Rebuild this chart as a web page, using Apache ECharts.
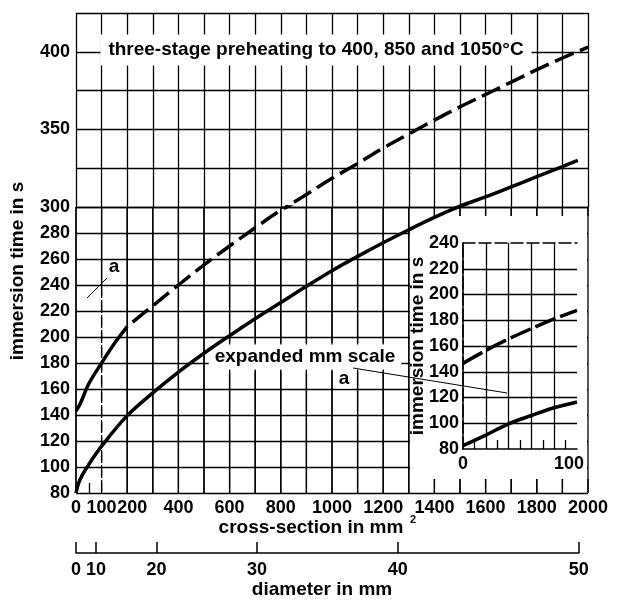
<!DOCTYPE html>
<html><head><meta charset="utf-8">
<script src="https://cdn.jsdelivr.net/npm/echarts@6/dist/echarts.min.js"></script>
<style>html,body{margin:0;padding:0;background:#fff}#c{width:617px;height:600px}</style>
</head><body><div id="c"></div>
<script>
// ---- data ----
const solidCrossSection = [0,10,25,50,100,200,300,400,500,600,700,800,900,1000,1100,1200,1300,1400,1500,1600,1700,1800,1900,1960];
const solidTime = [80,87.5,94,102,116,139.5,157,173,187.5,201,214,226.5,239,251,262,272.5,282.5,292,300.5,306.5,313,319.5,326,330];
const dashedCrossSection = [0,15,50,100,150,200,300,400,500,600,700,800,900,1000,1100,1200,1300,1400,1500,1600,1700,1800,1900,2000];
const dashedTime = [143,148,164,180,195,208,224,240,255.5,270,284,297.5,308,318.5,328,338,347,356,364.5,372.5,380.5,388.5,396,403];
const insetCrossSection = [0,20,40,60,80,100];
const insetSolidTime = [82.6,90.8,99.5,106,112,116.5];
const insetDashedTime = [146.5,156.5,165.5,173.5,181,187.7];
const xTickLabels = [0,100,200,400,600,800,1000,1200,1400,1600,1800,2000];
const xGridValues = [0,100,200,300,400,500,600,700,800,900,1000,1100,1200,1300,1400,1500,1600,1700,1800,1900,2000];
const yUpperLabels = [350,400];
const diameterTicks = [0,10,20,30,40,50];
const insetXLabels = [0,100];
const insetMinorTicks = [10,30,50,70,90];
const bottomMinorTicks = [50];
const dashedGridValue = 100, dashedGridTop = 240;   // the "a" line is dashed below 240 s

const FONT = "'Liberation Sans', Arial, sans-serif";
const area = d => Math.PI * d * d / 4;
const diamAreas = diameterTicks.map(area);
const zip = (a, b) => a.map((v, i) => [v, b[i]]);
const solidData = zip(solidCrossSection, solidTime);
const dashedData = zip(dashedCrossSection, dashedTime);
const headEnd = dashedCrossSection.indexOf(200);
const dashedHead = dashedData.slice(0, headEnd + 1);
const dashedTail = dashedData.slice(headEnd);

const L = 76, W = 512;
const lbl = extra => Object.assign({color:'#000', fontFamily: FONT, fontWeight:'bold', fontSize:18}, extra || {});
const gridLine = () => ({show:true, lineStyle:{color:'#000', width:1.3}});
const off = () => ({show:false});

const chart = echarts.init(document.getElementById('c'), null, {renderer:'canvas'});

function mainSeries(xi, yi) {
  return [
    {type:'line', xAxisIndex:xi, yAxisIndex:yi, data:solidData, showSymbol:false, smooth:0.35,
     lineStyle:{color:'#000', width:3.5}, z:2, silent:true},
    {type:'line', xAxisIndex:xi, yAxisIndex:yi, data:dashedHead, showSymbol:false, smooth:0.35,
     lineStyle:{color:'#000', width:3.5}, z:2, silent:true},
    {type:'line', xAxisIndex:xi, yAxisIndex:yi, data:dashedTail, showSymbol:false, smooth:0.35,
     lineStyle:{color:'#000', width:3.5, type:[20,7], dashOffset:20}, z:2, silent:true}
  ];
}

// vertical grid lines of the lower part, drawn by a custom series through the lower grid's scale
function renderGridLine(params, api) {
  const v = api.value(0);
  const a = api.coord([v, 80]);
  const b = api.coord([v, 300]);
  if (v === dashedGridValue) {
    const m = api.coord([v, dashedGridTop]);
    return {type:'group', children:[
      {type:'line', shape:{x1:m[0], y1:m[1], x2:b[0], y2:b[1]}, style:{stroke:'#000', lineWidth:1.3, fill:null}},
      {type:'line', shape:{x1:a[0], y1:a[1], x2:m[0], y2:m[1]}, style:{stroke:'#000', lineWidth:1.3, fill:null, lineDash:[11,4]}}
    ]};
  }
  return {type:'line', shape:{x1:a[0], y1:a[1], x2:b[0], y2:b[1]}, style:{stroke:'#000', lineWidth:1.3, fill:null}};
}

const baseGraphics = [
    {id:'insetbg', type:'rect', shape:{x:410, y:216, width:177, height:263}, style:{fill:'#fff'}, z:1, silent:true},
    {id:'title', type:'text', x:316, y:50, z:1, style:{text:'three-stage preheating to 400, 850 and 1050°C', font:'bold 19px '+FONT, fill:'#000',
      align:'center', verticalAlign:'middle', backgroundColor:'#fff', padding:[6,8]}},
    {id:'exp', type:'text', x:305, y:357, z:1, style:{text:'expanded mm scale', font:'bold 19px '+FONT, fill:'#000',
      align:'center', verticalAlign:'middle', backgroundColor:'#fff', padding:[3,6]}},
    {id:'a2', type:'text', x:344, y:379, z:1, style:{text:'a', font:'bold 19px '+FONT, fill:'#000',
      align:'center', verticalAlign:'middle', backgroundColor:'#fff', padding:[0,3]}},
    {id:'a1', type:'text', x:114, y:267, z:6, style:{text:'a', font:'bold 19px '+FONT, fill:'#000', align:'center', verticalAlign:'middle'}},
    {id:'lead1', type:'line', shape:{x1:87, y1:298, x2:107, y2:278}, style:{stroke:'#000', lineWidth:1}, z:6, silent:true},
    {id:'lead2', type:'line', shape:{x1:353, y1:368, x2:507, y2:393}, style:{stroke:'#000', lineWidth:1}, z:6, silent:true},
    {id:'yname', type:'text', x:18, y:271, rotation:Math.PI/2, z:6, style:{text:'immersion time in s', font:'bold 19px '+FONT, fill:'#000', align:'center', verticalAlign:'middle'}},
    {id:'yname2', type:'text', x:418, y:346, rotation:Math.PI/2, z:6, style:{text:'immersion time in s', font:'bold 19px '+FONT, fill:'#000', align:'center', verticalAlign:'middle'}},
    {id:'xname', type:'text', x:311, y:528, z:6, style:{text:'cross-section in mm', font:'bold 19px '+FONT, fill:'#000', align:'center', verticalAlign:'middle'}},
    {id:'xsup', type:'text', x:413, y:520, z:6, style:{text:'2', font:'bold 11px '+FONT, fill:'#000', align:'center', verticalAlign:'middle'}},
    {id:'dname', type:'text', x:322, y:590, z:6, style:{text:'diameter in mm', font:'bold 19px '+FONT, fill:'#000', align:'center', verticalAlign:'middle'}}
];

const option = {
  animation:false,
  backgroundColor:'#fff',
  grid:[
    {left:L, top:13, width:W, height:194, outerBoundsMode:'none'},   // 0 upper
    {left:L, top:207, width:W, height:286, outerBoundsMode:'none'},  // 1 lower
    {left:L, top:552, width:W*diamAreas[diamAreas.length-1]/2000, height:1, outerBoundsMode:'none'}, // 2 diameter
    {left:463, top:243, width:114, height:206, outerBoundsMode:'none'} // 3 inset
  ],
  xAxis:[
    {gridIndex:0, type:'value', min:0, max:2000, interval:100, axisLine:off(), axisTick:off(), axisLabel:off(), splitLine:gridLine(), z:0},
    {gridIndex:1, type:'value', min:0, max:2000, axisLine:off(), splitLine:off(),
     axisTick:{show:true, inside:true, length:10, customValues:bottomMinorTicks, lineStyle:{color:'#000', width:1.3}},
     axisLabel:lbl({customValues:xTickLabels, margin:6,
        formatter:v => v === 200 ? '{s|200}' : String(v),
        rich:{s:{padding:[0,0,0,10], fontFamily:FONT, fontWeight:'bold', fontSize:18, color:'#000'}}}), z:0},
    {gridIndex:2, type:'value', min:0, max:diamAreas[diamAreas.length-1],
     axisLine:{show:true, lineStyle:{color:'#000', width:1.5}},
     axisTick:{show:true, inside:true, length:11, customValues:diamAreas, lineStyle:{color:'#000', width:1.5}},
     axisLabel:lbl({customValues:diamAreas, margin:8,
        formatter:v => String(Math.round(Math.sqrt(4*v/Math.PI)))}),
     splitLine:off()},
    {gridIndex:3, type:'value', min:0, max:100, interval:20,
     axisLine:{show:true, lineStyle:{color:'#000', width:1.5}}, axisTick:off(), axisLabel:off(),
     splitLine:{show:true, showMinLine:false, showMaxLine:false, lineStyle:{color:'#000', width:1.3}}, z:3},
    {gridIndex:3, type:'value', position:'bottom', min:0, max:100, axisLine:off(), splitLine:off(),
     axisTick:{show:true, inside:true, length:9, customValues:insetMinorTicks, lineStyle:{color:'#000', width:1.3}},
     axisLabel:lbl({customValues:insetXLabels, margin:6,
        formatter:v => v === 100 ? '{r|100}' : String(v),
        rich:{r:{padding:[0,16,0,0], fontFamily:FONT, fontWeight:'bold', fontSize:18, color:'#000'}}}), z:3},
    {gridIndex:3, type:'value', position:'top', min:0, max:100,
     axisLine:{show:true, lineStyle:{color:'#000', width:1.5, type:[12,4]}},
     axisTick:off(), axisLabel:off(), splitLine:off(), z:3}
  ],
  yAxis:[
    {gridIndex:0, type:'value', min:300, max:425, interval:25, axisLine:off(), axisTick:off(),
     axisLabel:lbl({customValues:yUpperLabels, margin:6}), splitLine:gridLine(), z:0},
    {gridIndex:1, type:'value', min:80, max:300, interval:20, axisLine:off(), axisTick:off(),
     axisLabel:lbl({margin:6}), splitLine:gridLine(), z:0},
    {gridIndex:2, type:'value', min:0, max:1, show:false},
    {gridIndex:3, type:'value', position:'left', min:80, max:240, interval:20,
     axisLine:{show:true, lineStyle:{color:'#000', width:1.5}}, axisTick:off(),
     axisLabel:lbl({margin:4}),
     splitLine:{show:true, showMinLine:false, showMaxLine:false, lineStyle:{color:'#000', width:1.3}}, z:3},
    {gridIndex:3, type:'value', position:'right', min:80, max:240,
     axisLine:{show:true, lineStyle:{color:'#000', width:1.5, type:[12,4]}},
     axisTick:off(), axisLabel:off(), splitLine:off(), z:3}
  ],
  series:[
    {type:'custom', xAxisIndex:1, yAxisIndex:1, renderItem:renderGridLine, clip:false, silent:true, z:0.5,
     encode:{x:0, y:1}, data:xGridValues.map(v => [v, 80])},
    ...mainSeries(0,0),
    ...mainSeries(1,1),
    {type:'line', xAxisIndex:3, yAxisIndex:3, data:zip(insetCrossSection, insetSolidTime), showSymbol:false, smooth:0.35,
     lineStyle:{color:'#000', width:3.5}, z:4, silent:true},
    {type:'line', xAxisIndex:3, yAxisIndex:3, data:zip(insetCrossSection, insetDashedTime), showSymbol:false, smooth:0.35,
     lineStyle:{color:'#000', width:3.5, type:[22,5]}, z:4, silent:true}
  ],
  graphic:{elements:baseGraphics}
};
chart.setOption(option);

// fallback: the same lines as plain shapes above the grid layer, split around the white boxes
const boxes = [[409.5, 216, 588, 479], [209, 343, 401, 371]];
const xf = {xAxisIndex:0};
const yf = {yAxisIndex:1};
const extra = [];
const yBot = chart.convertToPixel(yf, 80), yTop = chart.convertToPixel(yf, 300);
const yMid = chart.convertToPixel(yf, dashedGridTop);
if (typeof yBot === 'number' && typeof yTop === 'number') {
  xGridValues.forEach((v, i) => {
    const x = chart.convertToPixel(xf, v);
    if (typeof x !== 'number' || isNaN(x)) return;
    let segs = [[yTop, yBot]];
    boxes.forEach(b => {
      if (x >= b[0] && x <= b[2]) {
        const next = [];
        segs.forEach(s => {
          if (b[1] > s[0]) next.push([s[0], Math.min(s[1], b[1])]);
          if (b[3] < s[1]) next.push([Math.max(s[0], b[3]), s[1]]);
        });
        segs = next;
      }
    });
    segs.forEach((s, j) => {
      if (v === dashedGridValue) {
        extra.push({id:'fx'+i+'_'+j+'s', type:'line', z:1.5, silent:true, shape:{x1:x, y1:s[0], x2:x, y2:yMid}, style:{stroke:'#000', lineWidth:1.3}});
        extra.push({id:'fx'+i+'_'+j+'d', type:'line', z:1.5, silent:true, shape:{x1:x, y1:yMid, x2:x, y2:s[1]}, style:{stroke:'#000', lineWidth:1.3, lineDash:[11,4]}});
      } else {
        extra.push({id:'fx'+i+'_'+j, type:'line', z:1.5, silent:true, shape:{x1:x, y1:s[0], x2:x, y2:s[1]}, style:{stroke:'#000', lineWidth:1.3}});
      }
    });
  });
  chart.setOption({graphic:{elements: baseGraphics.concat(extra)}});
}
</script></body></html>
